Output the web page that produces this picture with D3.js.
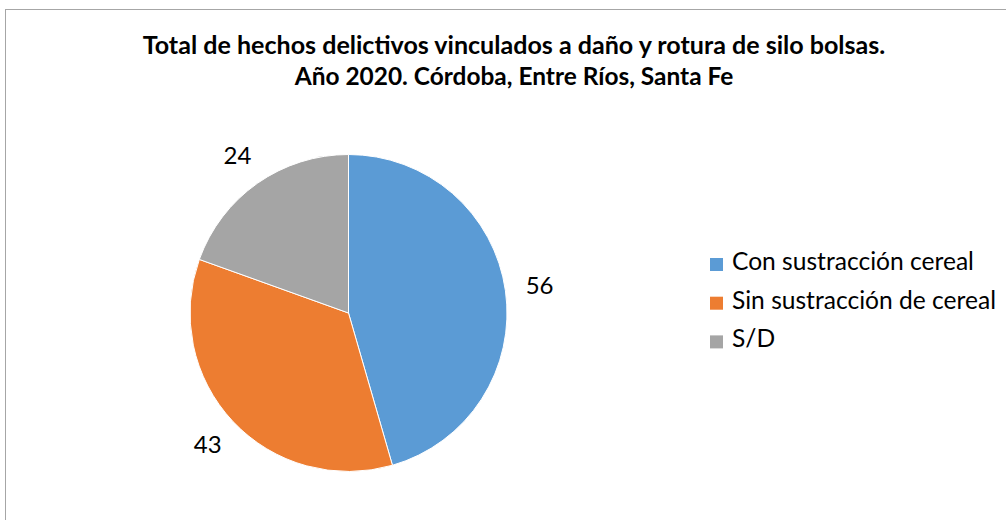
<!DOCTYPE html>
<html>
<head>
<meta charset="utf-8">
<script src="https://cdn.jsdelivr.net/npm/d3@7"></script>
<style>
  body { margin: 0; background: #fff; }
  svg { display: block; font-family: Lato, "Liberation Sans", sans-serif; }
</style>
</head>
<body>
<script>
let width = 1006,
    height = 520

let categories = ['Con sustracción cereal', 'Sin sustracción de cereal', 'S/D'],
    values = [56, 43, 24],
    colors = ['#5b9bd5', '#ed7d31', '#a5a5a5'],
    titleLines = ['Total de hechos delictivos vinculados a daño y rotura de silo bolsas.',
                  'Año 2020. Córdoba, Entre Ríos, Santa Fe']

let cx = 348.5,
    cy = 313,
    radius = 158.5,
    labelRadius = 193

let svg = d3.select('body').append('svg')
    .attr('width', width)
    .attr('height', height)

// chart frame (right and bottom sides fall outside the picture)
svg.append('rect')
    .attr('x', 5.5)
    .attr('y', 9.5)
    .attr('width', width + 20)
    .attr('height', height + 20)
    .attr('fill', 'none')
    .attr('stroke', '#a6a6a6')
    .attr('stroke-width', 1)

// shrink / grow a text so it spans the wanted width
function fitWidth(sel, target) {
    sel.each(function() {
        let fs = parseFloat(d3.select(this).attr('font-size')),
            w = this.getComputedTextLength()
        d3.select(this).attr('font-size', fs * target / w)
    })
}

let titleWidths = [743, 439]
svg.selectAll('.title').data(titleLines).enter()
    .append('text')
    .attr('class', 'title')
    .attr('x', 514)
    .attr('y', (d, i) => 54 + i * 31)
    .attr('text-anchor', 'middle')
    .attr('font-weight', 'bold')
    .attr('font-size', 24)
    .attr('fill', '#000')
    .text(d => d)
    .each(function(d, i) { fitWidth(d3.select(this), titleWidths[i]) })

let pie = d3.pie().sort(null).value(d => d)
let arcs = pie(values)

let arc = d3.arc().innerRadius(0).outerRadius(radius)
let labelArc = d3.arc().innerRadius(labelRadius).outerRadius(labelRadius)

let g = svg.append('g')
    .attr('transform', 'translate(' + cx + ',' + cy + ')')

g.selectAll('path').data(arcs).enter()
    .append('path')
    .attr('d', arc)
    .attr('fill', (d, i) => colors[i])
    .attr('stroke', '#fff')
    .attr('stroke-width', 1)

g.selectAll('.value').data(arcs).enter()
    .append('text')
    .attr('class', 'value')
    .attr('transform', d => 'translate(' + labelArc.centroid(d) + ')')
    .attr('text-anchor', 'middle')
    .attr('dy', '0.35em')
    .attr('font-size', 24)
    .attr('fill', '#000')
    .text(d => d.data)

// legend
let legend = svg.append('g')
    .attr('transform', 'translate(710, 270)')

let rows = legend.selectAll('.row').data(categories).enter()
    .append('g')
    .attr('class', 'row')
    .attr('transform', (d, i) => 'translate(0,' + (i * 38.7) + ')')

rows.append('rect')
    .attr('x', 0)
    .attr('y', -12)
    .attr('width', 13)
    .attr('height', 13)
    .attr('fill', (d, i) => colors[i])

rows.append('text')
    .attr('x', 22)
    .attr('y', 0)
    .attr('font-size', 23)
    .attr('fill', '#000')
    .text(d => d)

fitWidth(legend.select('text'), 242)
let legendSize = legend.select('text').attr('font-size')
legend.selectAll('text').attr('font-size', legendSize)
</script>
</body>
</html>
